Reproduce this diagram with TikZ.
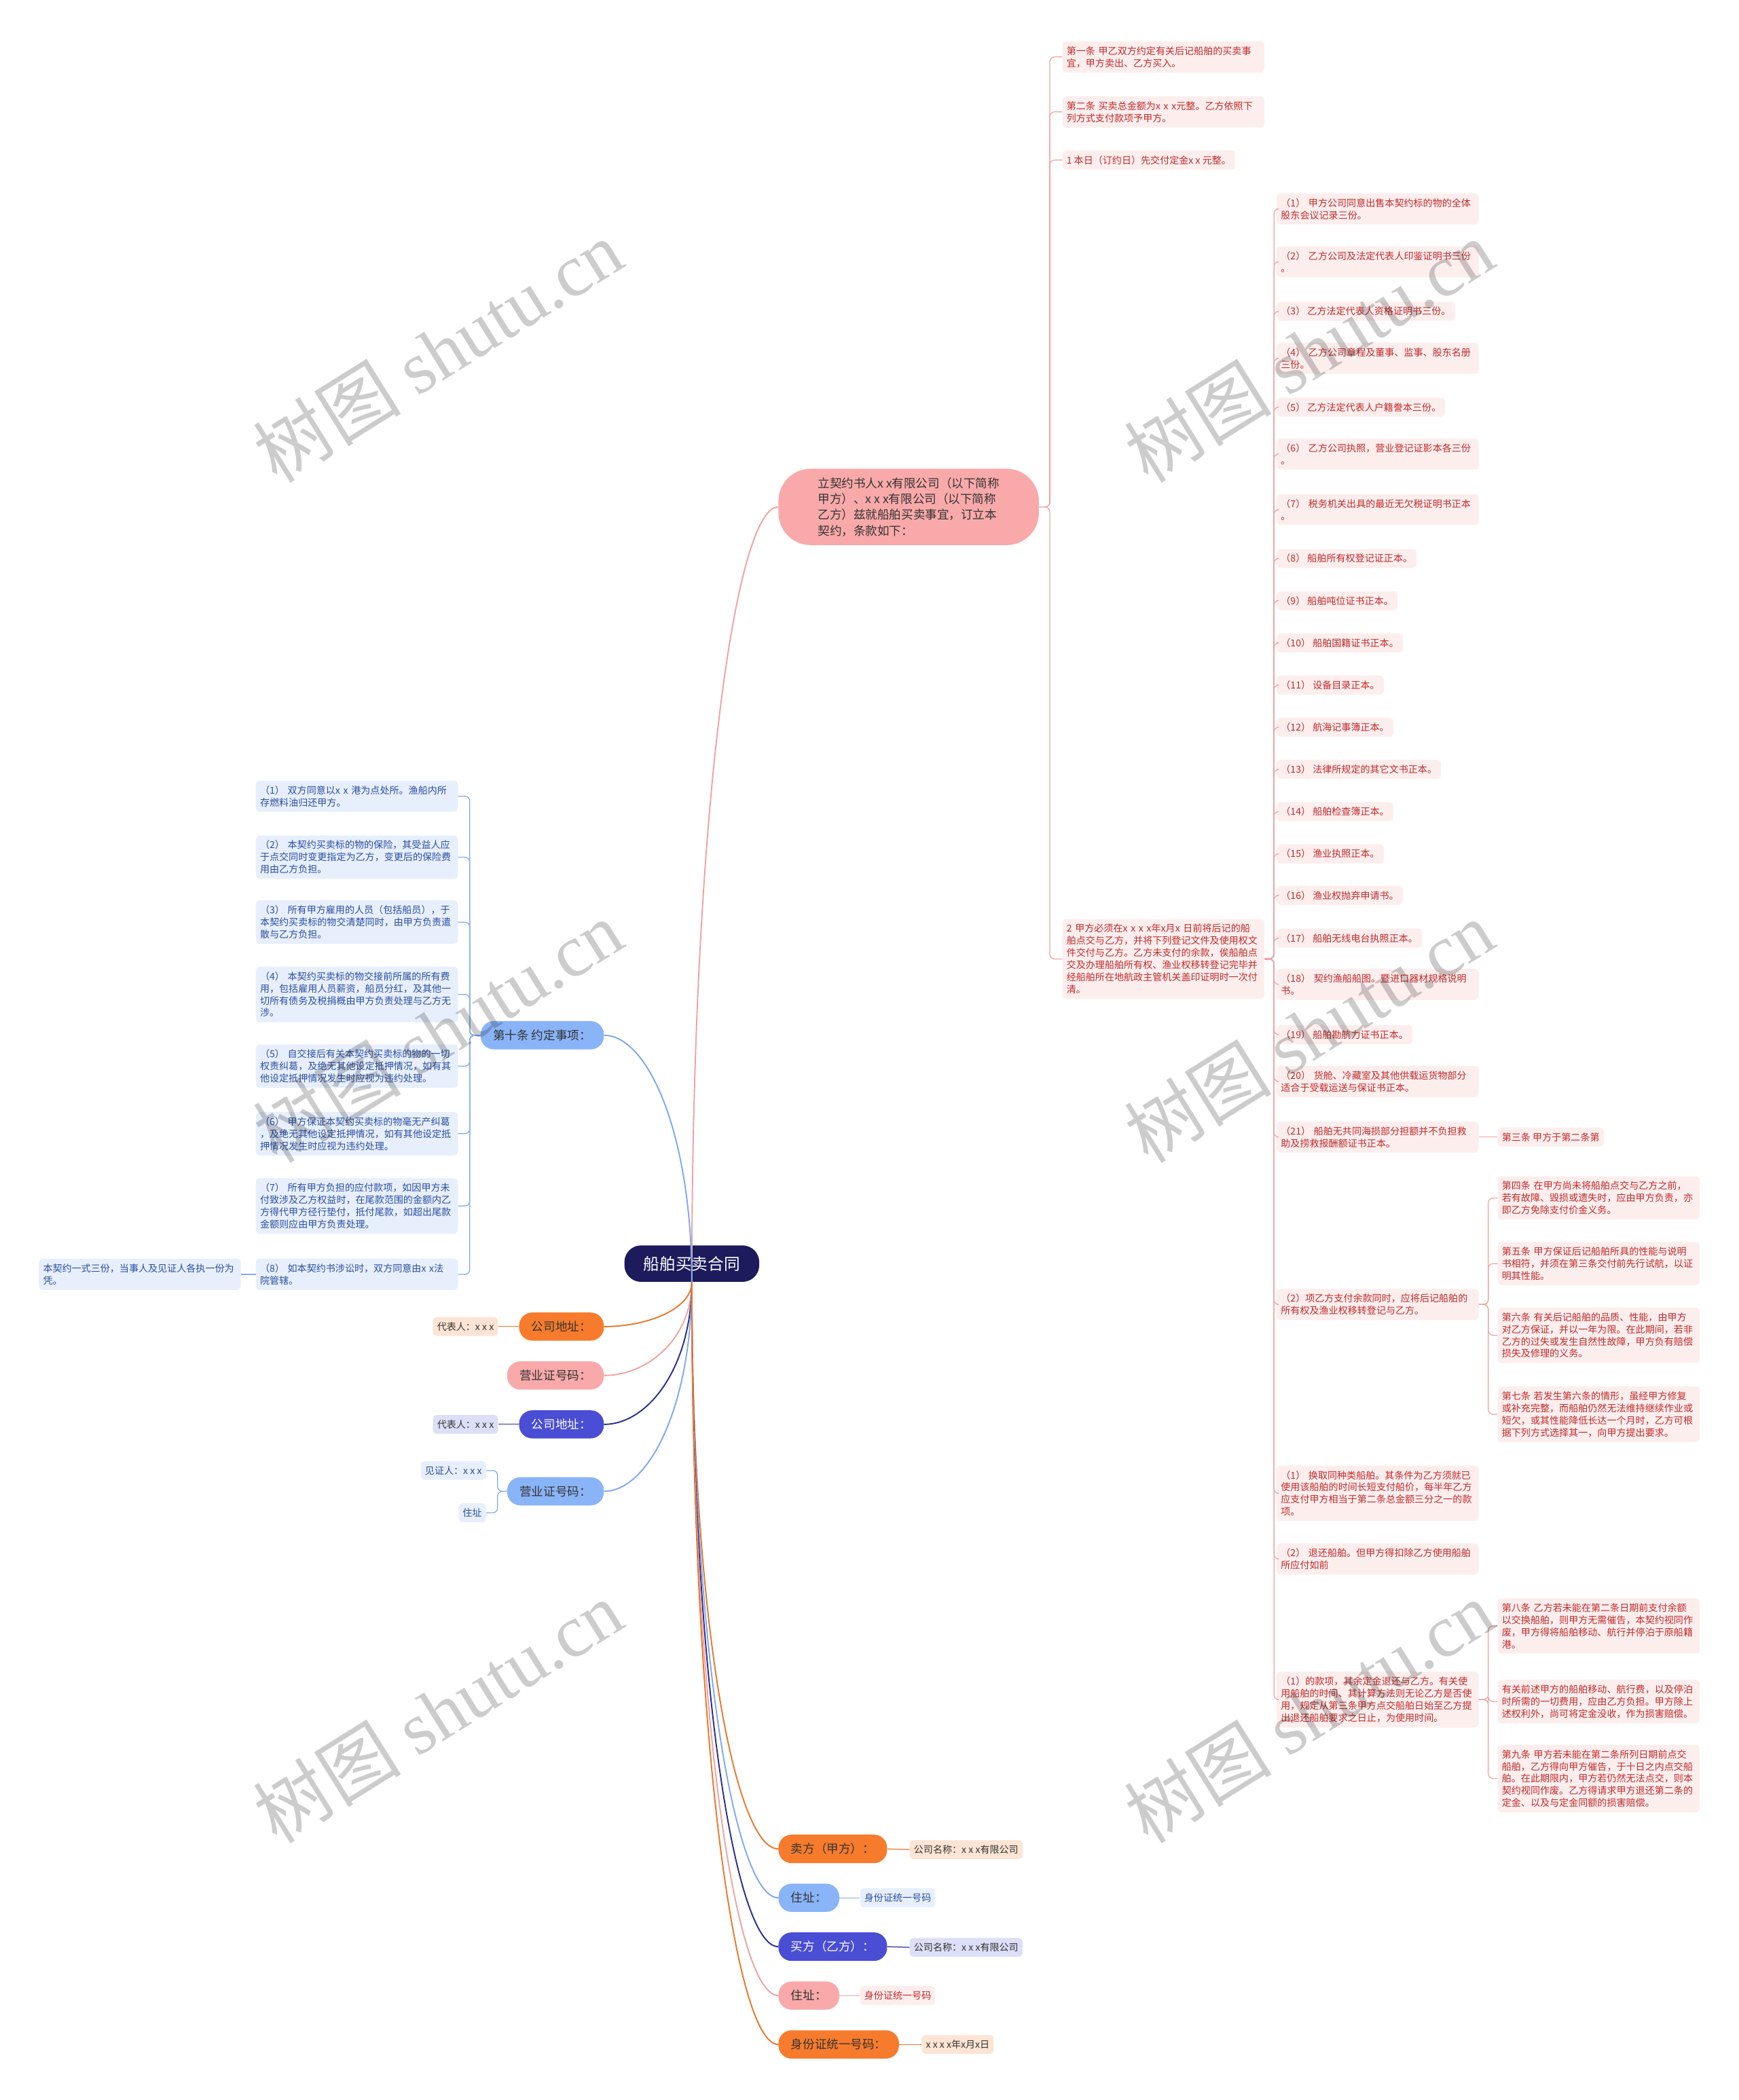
\documentclass[tikz,border=0pt]{standalone}
\usepackage{fontspec}
\setmainfont{Noto Sans CJK SC}
\newfontfamily\wmlatin{Liberation Serif}
\usetikzlibrary{calc}

\definecolor{rootbg}{HTML}{1D1B5C}
\definecolor{salmon}{HTML}{F9A9A9}
\definecolor{salmonln}{HTML}{EFA3A3}
\definecolor{pinkleaf}{HTML}{FDEEEE}
\definecolor{redtxt}{HTML}{C02A2A}
\definecolor{orangebg}{HTML}{F77B2C}
\definecolor{orangeln}{HTML}{E8782C}
\definecolor{peach}{HTML}{FDE4D4}
\definecolor{violetbg}{HTML}{4A4ED4}
\definecolor{violetln}{HTML}{2A2E90}
\definecolor{lavender}{HTML}{DDDEF7}
\definecolor{skybg}{HTML}{8AB4F8}
\definecolor{skyln}{HTML}{7FA9EE}
\definecolor{skyleaf}{HTML}{E7EFFD}
\definecolor{bluetxt}{HTML}{2B4EA0}
\definecolor{darktxt}{HTML}{333333}

\begin{document}
\begin{tikzpicture}[x=0.03944cm, y=-0.03944cm]

  % Styles for boxes and links
  \tikzset{
    rootbox/.style={fill=rootbg, text=white, rounded corners=14pt,
      inner xsep=16pt, inner ysep=9pt, font=\fontsize{13.5}{16}\selectfont},
    topic/.style={rounded corners=11pt, inner xsep=10.5pt, inner ysep=7.2pt,
      text=darktxt, font=\fontsize{10}{13.3}\selectfont},
    leaf/.style={fill=pinkleaf, text=redtxt, rounded corners=3pt, inner xsep=3.5pt,
      inner ysep=4.2pt, align=left, anchor=west, font=\fontsize{8}{10.2}\selectfont},
    wide/.style={text width=5.7cm},
    bleaf/.style={leaf, fill=skyleaf, text=bluetxt, anchor=east},
    tag/.style={rounded corners=3pt, inner xsep=3.5pt, inner ysep=4.2pt,
      text=darktxt, font=\fontsize{8}{10}\selectfont},
    stem/.style={line width=0.7pt, rounded corners=4pt},
    branch/.style={line width=1.1pt},
    wmark/.style={rotate=32, text=black, text opacity=0.2,
      font=\fontsize{62}{62}\selectfont}
  }

  % Canvas
  \fill[white] (0,0) rectangle (1298,1568);
  \useasboundingbox (0,0) rectangle (1298,1568);

  % Root
  \node[rootbox] (root) at (516.5,943.5) {船舶买卖合同};

  % Level one, right top
  \node[topic, fill=salmon, rounded corners=27pt, inner xsep=33pt, align=left, anchor=west] (top) at (581,378.5) {立契约书人x x有限公司（以下简称\\甲方）、x x x有限公司（以下简称\\乙方）兹就船舶买卖事宜，订立本\\契约，条款如下：};

  % Level one, left
  \node[topic, fill=skybg, anchor=east] (L10) at (451,773) {第十条 约定事项：};
  \node[topic, fill=orangebg, anchor=east] (o1) at (451,990.5) {公司地址：};
  \node[topic, fill=salmon, anchor=east] (p1) at (451,1027) {营业证号码：};
  \node[topic, fill=violetbg, text=white, anchor=east] (v1) at (451,1063.5) {公司地址：};
  \node[topic, fill=skybg, anchor=east] (lb1) at (451,1113.5) {营业证号码：};

  % Level one, right bottom
  \node[topic, fill=orangebg, anchor=west] (s1) at (581,1380.5) {卖方（甲方）：};
  \node[topic, fill=skybg, anchor=west] (s2) at (581,1417) {住址：};
  \node[topic, fill=violetbg, text=white, anchor=west] (s3) at (581,1453.5) {买方（乙方）：};
  \node[topic, fill=salmon, anchor=west] (s4) at (581,1490) {住址：};
  \node[topic, fill=orangebg, anchor=west] (s5) at (581,1526.5) {身份证统一号码：};

  % Small tags
  \node[tag, fill=peach, anchor=east] (o2) at (372,990.5) {代表人：x x x};
  \node[tag, fill=lavender, anchor=east] (v2) at (372,1063.5) {代表人：x x x};
  \node[tag, fill=skyleaf, text=bluetxt, anchor=east] (w1) at (363,1098) {见证人：x x x};
  \node[tag, fill=skyleaf, text=bluetxt, anchor=east] (w2) at (363,1129.5) {住址};
  \node[tag, fill=peach, anchor=west] (s1t) at (679,1381) {公司名称：x x x有限公司};
  \node[tag, fill=skyleaf, text=bluetxt, anchor=west] (s2t) at (642,1417) {身份证统一号码};
  \node[tag, fill=lavender, anchor=west] (s3t) at (679,1454) {公司名称：x x x有限公司};
  \node[tag, fill=pinkleaf, text=redtxt, anchor=west] (s4t) at (642,1490) {身份证统一号码};
  \node[tag, fill=peach, anchor=west] (s5t) at (688,1526.5) {x x x x年x月x日};

  % Clauses, column A
  \node[leaf, wide] (a1) at (793,42.5) {第一条 甲乙双方约定有关后记船舶的买卖事\\宜，甲方卖出、乙方买入。};
  \node[leaf, wide] (a2) at (793,83.5) {第二条 买卖总金额为x x x元整。乙方依照下\\列方式支付款项予甲方。};
  \node[leaf] (a3) at (793,119.5) {1 本日（订约日）先交付定金x x 元整。};
  \node[leaf, wide] (a4) at (793,716) {2 甲方必须在x x x x年x月x 日前将后记的船\\舶点交与乙方，并将下列登记文件及使用权文\\件交付与乙方。乙方未支付的余款，俟船舶点\\交及办理船舶所有权、渔业权移转登记完毕并\\经船舶所在地航政主管机关盖印证明时一次付\\清。};

  % Documents, column B
  \node[leaf, wide] (b1) at (953,156) {（1） 甲方公司同意出售本契约标的物的全体\\股东会议记录三份。};
  \node[leaf, wide] (b2) at (953,195.5) {（2） 乙方公司及法定代表人印鉴证明书三份\\。};
  \node[leaf] (b3) at (953,232.5) {（3） 乙方法定代表人资格证明书三份。};
  \node[leaf, wide] (b4) at (953,267.5) {（4） 乙方公司章程及董事、监事、股东名册\\三份。};
  \node[leaf] (b5) at (953,304) {（5） 乙方法定代表人户籍誊本三份。};
  \node[leaf, wide] (b6) at (953,339) {（6） 乙方公司执照，营业登记证影本各三份\\。};
  \node[leaf, wide] (b7) at (953,380.5) {（7） 税务机关出具的最近无欠税证明书正本\\。};
  \node[leaf] (b8) at (953,417) {（8） 船舶所有权登记证正本。};
  \node[leaf] (b9) at (953,448.5) {（9） 船舶吨位证书正本。};
  \node[leaf] (b10) at (953,480) {（10） 船舶国籍证书正本。};
  \node[leaf] (b11) at (953,511.5) {（11） 设备目录正本。};
  \node[leaf] (b12) at (953,543) {（12） 航海记事簿正本。};
  \node[leaf] (b13) at (953,574.5) {（13） 法律所规定的其它文书正本。};
  \node[leaf] (b14) at (953,606) {（14） 船舶检查簿正本。};
  \node[leaf] (b15) at (953,637.5) {（15） 渔业执照正本。};
  \node[leaf] (b16) at (953,668.5) {（16） 渔业权抛弃申请书。};
  \node[leaf] (b17) at (953,700.5) {（17） 船舶无线电台执照正本。};
  \node[leaf, wide] (b18) at (953,735) {（18） 契约渔船船图。暨进口器材规格说明\\书。};
  \node[leaf] (b19) at (953,772.5) {（19） 船舶勘航力证书正本。};
  \node[leaf, wide] (b20) at (953,807.5) {（20） 货舱、冷藏室及其他供载运货物部分\\适合于受载运送与保证书正本。};
  \node[leaf, wide] (b21) at (953,849) {（21） 船舶无共同海损部分担额并不负担救\\助及捞救报酬额证书正本。};
  \node[leaf, wide] (b22) at (953,974) {（2）项乙方支付余款同时，应将后记船舶的\\所有权及渔业权移转登记与乙方。};
  \node[leaf, wide] (b23) at (953,1115) {（1） 换取同种类船舶。其条件为乙方须就已\\使用该船舶的时间长短支付船价，每半年乙方\\应支付甲方相当于第二条总金额三分之一的款\\项。};
  \node[leaf, wide] (b24) at (953,1164) {（2） 退还船舶。但甲方得扣除乙方使用船舶\\所应付如前};
  \node[leaf, wide] (b25) at (953,1269) {（1）的款项，其余定金退还与乙方。有关使\\用船舶的时间、其计算方法则无论乙方是否使\\用，规定从第三条甲方点交船舶日始至乙方提\\出退还船舶要求之日止，为使用时间。};

  % Articles, column C
  \node[leaf] (c1) at (1118,849) {第三条 甲方于第二条第};
  \node[leaf, wide] (c2) at (1118,894.5) {第四条 在甲方尚未将船舶点交与乙方之前，\\若有故障、毁损或遗失时，应由甲方负责，亦\\即乙方免除支付价金义务。};
  \node[leaf, wide] (c3) at (1118,943.5) {第五条 甲方保证后记船舶所具的性能与说明\\书相符，并须在第三条交付前先行试航，以证\\明其性能。};
  \node[leaf, wide] (c4) at (1118,997) {第六条 有关后记船舶的品质、性能，由甲方\\对乙方保证，并以一年为限。在此期间，若非\\乙方的过失或发生自然性故障，甲方负有赔偿\\损失及修理的义务。};
  \node[leaf, wide] (c5) at (1118,1056) {第七条 若发生第六条的情形，虽经甲方修复\\或补充完整，而船舶仍然无法维持继续作业或\\短欠，或其性能降低长达一个月时，乙方可根\\据下列方式选择其一，向甲方提出要求。};
  \node[leaf, wide] (c6) at (1118,1214) {第八条 乙方若未能在第二条日期前支付余额\\以交换船舶，则甲方无需催告，本契约视同作\\废，甲方得将船舶移动、航行并停泊于原船籍\\港。};
  \node[leaf, wide] (c7) at (1118,1270.5) {有关前述甲方的船舶移动、航行费，以及停泊\\时所需的一切费用，应由乙方负担。甲方除上\\述权利外，尚可将定金没收，作为损害赔偿。};
  \node[leaf, wide] (c8) at (1118,1328) {第九条 甲方若未能在第二条所列日期前点交\\船舶，乙方得向甲方催告，于十日之内点交船\\舶。在此期限内，甲方若仍然无法点交，则本\\契约视同作废。乙方得请求甲方退还第二条的\\定金、以及与定金同额的损害赔偿。};

  % Agreed items, left column
  \node[bleaf, wide] (l1) at (342,594.5) {（1） 双方同意以x x 港为点处所。渔船内所\\存燃料油归还甲方。};
  \node[bleaf, wide] (l2) at (342,640) {（2） 本契约买卖标的物的保险，其受益人应\\于点交同时变更指定为乙方，变更后的保险费\\用由乙方负担。};
  \node[bleaf, wide] (l3) at (342,688.5) {（3） 所有甲方雇用的人员（包括船员），于\\本契约买卖标的物交清楚同时，由甲方负责遣\\散与乙方负担。};
  \node[bleaf, wide] (l4) at (342,742.5) {（4） 本契约买卖标的物交接前所属的所有费\\用，包括雇用人员薪资，船员分红，及其他一\\切所有债务及税捐概由甲方负责处理与乙方无\\涉。};
  \node[bleaf, wide] (l5) at (342,796) {（5） 自交接后有关本契约买卖标的物的一切\\权责纠葛，及绝无其他设定抵押情况，如有其\\他设定抵押情况发生时应视为违约处理。};
  \node[bleaf, wide] (l6) at (342,846.5) {（6） 甲方保证本契约买卖标的物毫无产纠葛\\，及绝无其他设定抵押情况，如有其他设定抵\\押情况发生时应视为违约处理。};
  \node[bleaf, wide] (l7) at (342,900.5) {（7） 所有甲方负担的应付款项，如因甲方未\\付致涉及乙方权益时，在尾款范围的金额内乙\\方得代甲方径行垫付，抵付尾款，如超出尾款\\金额则应由甲方负责处理。};
  \node[bleaf, wide] (l8) at (342,951.5) {（8） 如本契约书涉讼时，双方同意由x x法\\院管辖。};
  \node[bleaf, wide] (l9) at (180,951.5) {本契约一式三份，当事人及见证人各执一份为\\凭。};

  % Links from the root
  \foreach \tgt/\col in {top.west/salmonln, L10.east/skyln, o1.east/orangeln, p1.east/salmonln, v1.east/violetln, lb1.east/skyln, s1.west/orangeln, s2.west/skyln, s3.west/violetln, s4.west/salmonln, s5.west/orangeln}
    \draw[branch, color=\col] (root.south) .. controls ($(root.south)!0.6!(root.south |- \tgt)$) and ($(\tgt)!0.5!(root.south |- \tgt)$) .. (\tgt);

  % Links to the clause boxes
  \foreach \n in {a1,a2,a3,a4}
    \draw[stem, salmonln] (top.east) -- ++(8,0) |- (\n.west);
  \foreach \n in {1,...,25}
    \draw[stem, salmonln] (a4.east) -- ++(7,0) |- (b\n.west);
  \draw[stem, salmonln] (b21.east) -- (c1.west);
  \foreach \n in {2,...,5}
    \draw[stem, salmonln] (b22.east) -- ++(7,0) |- (c\n.west);
  \foreach \n in {6,7,8}
    \draw[stem, salmonln] (b25.east) -- ++(7,0) |- (c\n.west);

  % Links on the left
  \foreach \n in {1,...,8}
    \draw[stem, skyln] (L10.west) -- ++(-8,0) |- (l\n.east);
  \draw[stem, skyln] (l8.west) -- (l9.east);
  \draw[stem, orangeln] (o1.west) -- (o2.east);
  \draw[stem, violetln] (v1.west) -- (v2.east);
  \foreach \n in {w1,w2}
    \draw[stem, skyln] (lb1.west) -- ++(-7,0) |- (\n.east);

  % Links at the bottom
  \draw[stem, orangeln] (s1.east) -- (s1t.west);
  \draw[stem, skyln] (s2.east) -- (s2t.west);
  \draw[stem, violetln] (s3.east) -- (s3t.west);
  \draw[stem, salmonln] (s4.east) -- (s4t.west);
  \draw[stem, orangeln] (s5.east) -- (s5t.west);

  % Watermarks
  \foreach \wx/\wy in {327/262, 977/262, 327/770, 977/770, 327/1278, 977/1278}
    \node[wmark] at (\wx,\wy) {树图 {\wmlatin shutu.cn}};

\end{tikzpicture}
\end{document}
